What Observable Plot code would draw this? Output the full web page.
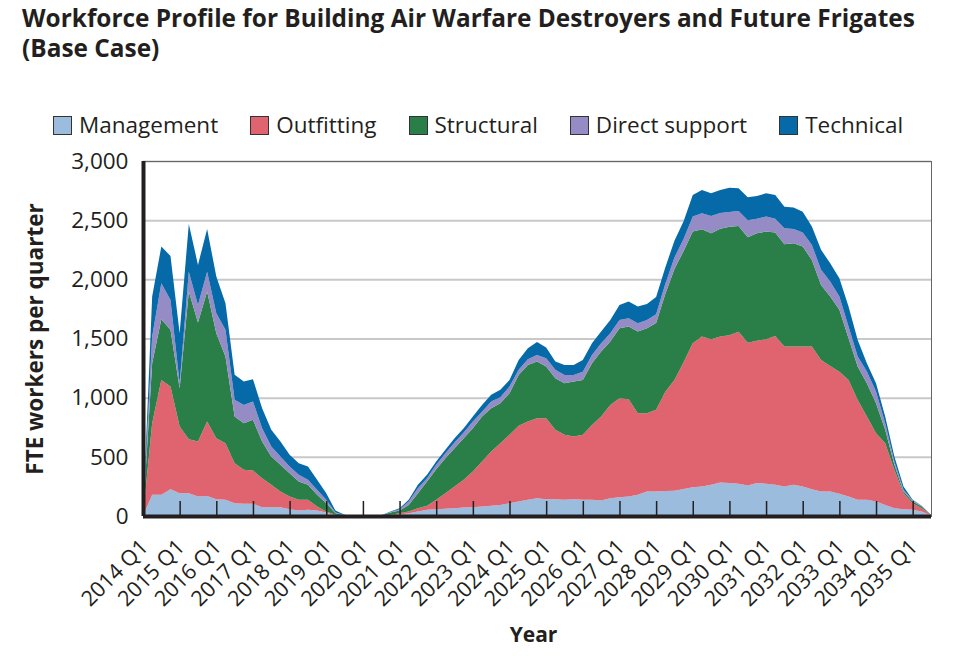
<!DOCTYPE html>
<html><head><meta charset="utf-8">
<script src="https://cdn.jsdelivr.net/npm/d3@7"></script>
<script src="https://cdn.jsdelivr.net/npm/@observablehq/plot@0.6"></script>
<style>
body{margin:0;background:#fff;width:975px;height:656px;position:relative;overflow:hidden;font-family:"Open Sans",sans-serif;color:#231f20}
#title{position:absolute;left:22px;top:3px;font-weight:700;font-size:24.4px;line-height:30px;white-space:nowrap;z-index:2}
#legend{position:absolute;left:53px;top:111px;display:flex;align-items:center;font-size:22.5px;line-height:28px;white-space:nowrap;z-index:2}
#legend .item{display:flex;align-items:center;margin-right:32px}
#legend .sw{width:17px;height:17px;border:1.5px solid #333;margin-right:7px}
#chart{position:absolute;left:0;top:130px;z-index:1}
</style></head>
<body>
<div id="title">Workforce Profile for Building Air Warfare Destroyers and Future Frigates<br>(Base Case)</div>
<div id="legend"></div>
<div id="chart"></div>
<script>
const series = ["Management", "Outfitting", "Structural", "Direct support", "Technical"];
const colors = ["#9bbcdc", "#e0646f", "#2a7f48", "#958bc5", "#066aa9"];
const firstYear = 2014;
const years = [2014,2015,2016,2017,2018,2019,2020,2021,2022,2023,2024,2025,2026,2027,2028,2029,2030,2031,2032,2033,2034,2035];
const yTicks = [0, 500, 1000, 1500, 2000, 2500, 3000];

// quarterly FTE values, 2014 Q1 .. 2035 Q3
const management = [0,179,179,227,193,193,165,170,142,137,108,103,103,75,75,75,58,46,52,46,30,5,2,0,0,0,0,4,13,24,38,52,58,61,66,72,75,80,86,92,108,123,137,151,142,142,137,142,137,137,131,151,159,165,179,207,207,211,214,228,244,250,264,284,278,273,258,278,273,264,250,264,250,227,207,207,187,165,137,137,123,94,66,58,52,38,5];
const outfitting = [0,605,971,867,563,456,464,628,516,478,338,287,281,245,189,132,107,91,85,34,8,5,2,0,0,0,2,6,11,14,28,34,79,132,184,234,301,381,459,523,578,639,661,676,685,586,549,530,549,633,710,788,837,822,690,662,690,839,936,1072,1216,1266,1230,1232,1249,1285,1207,1204,1221,1258,1182,1168,1182,1205,1112,1061,1033,985,844,704,577,521,324,135,56,28,3];
const structural = [0,507,513,479,324,1248,1006,1099,887,733,395,394,429,310,239,226,197,155,127,99,70,14,2,0,0,0,3,20,22,56,127,206,259,296,323,352,366,380,366,338,352,430,479,478,436,436,436,464,464,521,549,535,591,614,690,718,733,826,937,940,944,907,895,912,918,893,890,907,910,873,864,873,845,732,634,587,522,352,282,281,253,113,43,15,15,14,1];
const directSupport = [0,225,304,253,42,168,149,168,168,225,141,155,154,112,84,70,57,56,42,42,29,6,2,0,0,0,0,4,12,29,42,28,37,42,48,48,56,41,56,50,56,43,48,56,70,71,70,56,70,70,70,71,70,70,70,70,75,84,98,100,126,135,147,133,125,127,145,124,126,118,136,121,118,127,127,126,113,99,84,99,99,56,28,14,8,6,0];
const technical = [0,338,310,372,423,403,338,361,310,225,211,198,189,169,141,126,98,98,112,85,56,16,2,0,0,0,1,4,8,14,29,29,28,28,37,36,43,57,57,63,56,84,93,110,90,70,85,85,99,99,99,112,127,141,141,135,145,140,141,150,183,197,191,194,205,191,193,191,197,200,182,182,177,155,169,155,154,169,141,70,70,57,42,28,6,0,1];

const columns = [management, outfitting, structural, directSupport, technical];
const data = [];
columns.forEach((col, s) => col.forEach((v, i) => data.push({t: firstYear + i / 4, series: series[s], value: v})));

// legend
const legend = document.getElementById("legend");
series.forEach((name, i) => {
  const it = document.createElement("div");
  it.className = "item";
  it.innerHTML = `<span class="sw" style="background:${colors[i]}"></span><span>${name}</span>`;
  legend.appendChild(it);
});

const chart = Plot.plot({
  width: 975,
  height: 526,
  marginTop: 31,
  marginBottom: 140,
  marginLeft: 143,
  marginRight: 44,
  style: {fontFamily: "Open Sans", fontSize: "21px", color: "#231f20", background: "transparent"},
  x: {domain: [2014, 2035.5]},
  y: {domain: [0, 3000]},
  color: {domain: series, range: colors},
  marks: [
    Plot.gridY(yTicks, {stroke: "#c8c8c8", strokeWidth: 2, strokeOpacity: 1}),
    Plot.areaY(data, {x: "t", y: "value", z: "series", fill: "series", order: series}),
    Plot.ruleX(years.slice(1), {x: d => d, insetTop: 340, stroke: "#231f20", strokeWidth: 1.5}),
    Plot.frame({stroke: "#666", strokeWidth: 1}),
    Plot.ruleX([2014], {stroke: "#231f20", strokeWidth: 4}),
    Plot.ruleY([0], {stroke: "#231f20", strokeWidth: 4}),
    Plot.axisY({ticks: yTicks, tickSize: 0, tickPadding: 15, tickFormat: d3.format(","), label: null, fontSize: 22.5}),
    Plot.axisX({ticks: years, tickSize: 0, tickPadding: 27, dx: 1, tickRotate: -45, tickFormat: d => `${d} Q1`, label: null, fontSize: 21.5}),
    Plot.text(["FTE workers per quarter"], {frameAnchor: "left", dx: -108, rotate: -90, textAnchor: "middle", lineAnchor: "middle", fontWeight: "bold", fontSize: 22.5}),
    Plot.text(["Year"], {frameAnchor: "bottom", dy: 119, dx: -4, textAnchor: "middle", lineAnchor: "middle", fontWeight: "bold", fontSize: 21})
  ]
});
document.getElementById("chart").appendChild(chart);
</script>
</body></html>
